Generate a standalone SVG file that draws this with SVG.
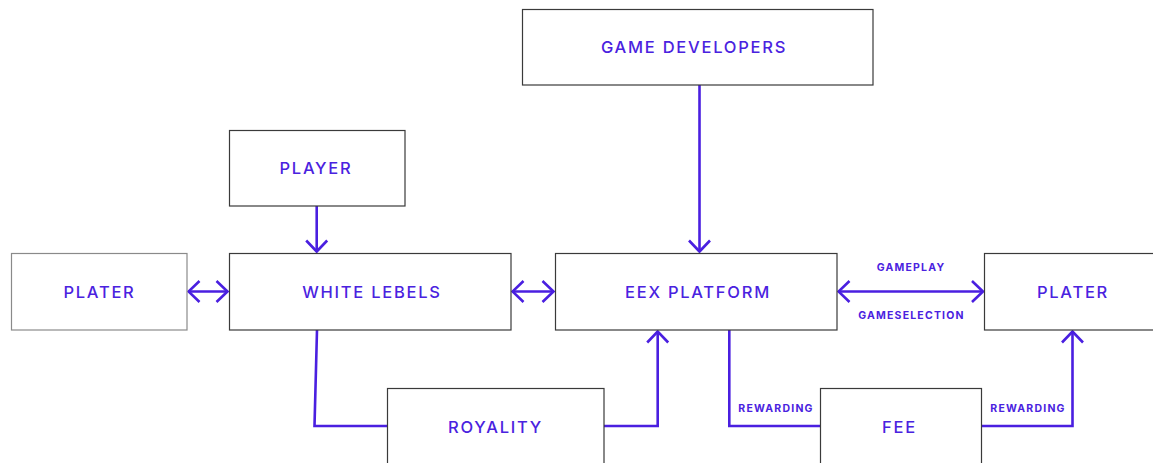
<svg xmlns="http://www.w3.org/2000/svg" width="1153" height="463" viewBox="0 0 1153 463">
  <defs>
    <style>
      .box { fill: #ffffff; stroke: #3a3a3a; stroke-width: 1.2; }
      .box.soft { stroke: #8a8a8a; }
      .label { font-family: "Inter", "Open Sans", "Liberation Sans", sans-serif; font-size: 16.5px; font-weight: 500; fill: #4a22df; text-anchor: middle; letter-spacing: 1.75px; }
      .tag { font-family: "Inter", "Open Sans", "Liberation Sans", sans-serif; font-size: 10.5px; font-weight: 700; fill: #4a22df; text-anchor: middle; letter-spacing: 1.2px; }
      .link { fill: none; stroke: #4a1fe0; stroke-width: 2.6; stroke-linejoin: miter; }
    </style>
    <marker id="chev" viewBox="-13 -12 15 24" refX="0" refY="0" markerWidth="15" markerHeight="24" markerUnits="userSpaceOnUse" orient="auto-start-reverse">
      <path d="M-11,-10.5 L0,0 L-11,10.5" fill="none" stroke="#4a1fe0" stroke-width="2.6"/>
    </marker>
  </defs>

  <!-- connectors -->
  <g id="connectors">
    <path class="link" d="M699.5,85 V251.5" marker-end="url(#chev)"/>
    <path class="link" d="M316.7,206 V251.5" marker-end="url(#chev)"/>
    <path class="link" d="M188.5,291.5 H227.5" marker-start="url(#chev)" marker-end="url(#chev)"/>
    <path class="link" d="M512.5,291.5 H553.5" marker-start="url(#chev)" marker-end="url(#chev)"/>
    <path class="link" d="M838.5,291.5 H983" marker-start="url(#chev)" marker-end="url(#chev)"/>
    <path class="link" d="M317,330 L314.5,426 H387"/>
    <path class="link" d="M604,426 H657.7 V331.5" marker-end="url(#chev)"/>
    <path class="link" d="M729.3,330 V426 H820.5"/>
    <path class="link" d="M981.5,426 H1072.5 V331.5" marker-end="url(#chev)"/>
    <text class="tag" x="911" y="271">GAMEPLAY</text>
    <text class="tag" x="911.5" y="319">GAMESELECTION</text>
    <text class="tag" x="776" y="412">REWARDING</text>
    <text class="tag" x="1028" y="412">REWARDING</text>
  </g>

  <!-- nodes -->
  <g id="game-developers">
    <rect class="box" x="522.5" y="9.5" width="350.5" height="75.5"/>
    <text class="label" x="694" y="53">GAME DEVELOPERS</text>
  </g>
  <g id="player">
    <rect class="box" x="229.5" y="130.5" width="175.5" height="75.5"/>
    <text class="label" x="316" y="174">PLAYER</text>
  </g>
  <g id="plater-left">
    <rect class="box soft" x="11.5" y="253.5" width="175.5" height="76.5"/>
    <text class="label" x="99.5" y="297.5">PLATER</text>
  </g>
  <g id="white-lebels">
    <rect class="box" x="229.5" y="253.5" width="281.5" height="76.5"/>
    <text class="label" x="372" y="297.5">WHITE LEBELS</text>
  </g>
  <g id="eex-platform">
    <rect class="box" x="555.5" y="253.5" width="281.5" height="76.5"/>
    <text class="label" x="698" y="297.5">EEX PLATFORM</text>
  </g>
  <g id="plater-right">
    <rect class="box" x="984.5" y="253.5" width="180" height="76.5"/>
    <text class="label" x="1073" y="297.5">PLATER</text>
  </g>
  <g id="royality">
    <rect class="box" x="387.5" y="388.5" width="216.5" height="80"/>
    <text class="label" x="495.5" y="432.5">ROYALITY</text>
  </g>
  <g id="fee">
    <rect class="box" x="820.5" y="388.5" width="161" height="80"/>
    <text class="label" x="899.5" y="432.5">FEE</text>
  </g>
</svg>
